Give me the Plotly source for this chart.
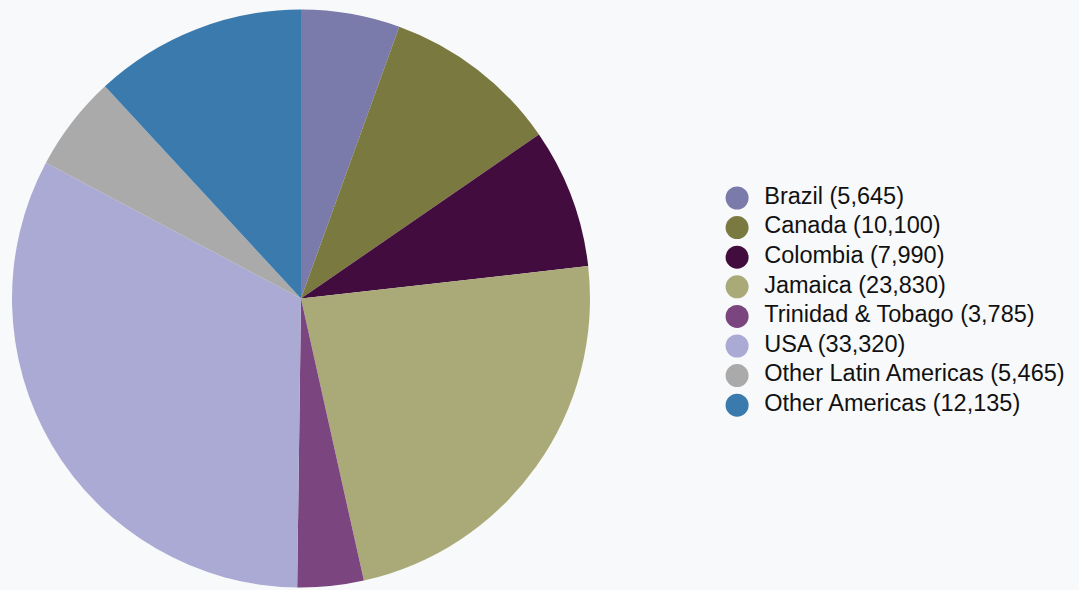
import plotly.graph_objects as go

countries = ["Brazil", "Canada", "Colombia", "Jamaica", "Trinidad & Tobago",
             "USA", "Other Latin Americas", "Other Americas"]
values = [5645, 10100, 7990, 23830, 3785, 33320, 5465, 12135]
colors = ["#7a7aab", "#7a7a40", "#420c3e", "#aaaa78", "#7b4580",
          "#aaaad4", "#aaaaaa", "#3a7aad"]

labels = [f"{c} ({v:,})" for c, v in zip(countries, values)]
idx = list(range(len(countries)))

fig = go.Figure()
fig.add_trace(go.Pie(
    labels=labels, values=values, sort=False, direction="clockwise", rotation=0,
    marker=dict(colors=colors, line=dict(width=0)),
    textinfo="none", hoverinfo="label+percent", showlegend=False,
    domain=dict(x=[12/1079, 590/1079], y=[0.004, 0.984]),
))

# legend drawn as a scatter on a hidden axis
fig.add_trace(go.Scatter(
    x=[0.068]*len(idx), y=idx, mode="markers",
    marker=dict(size=23, color=colors, line=dict(width=0)),
    showlegend=False, hoverinfo="skip", xaxis="x", yaxis="y",
))
fig.add_trace(go.Scatter(
    x=[0.142]*len(idx), y=idx, mode="text", text=labels,
    textposition="middle right",
    textfont=dict(size=23.5, color="#111111", family="Liberation Sans, Arial, sans-serif"),
    showlegend=False, hoverinfo="skip", xaxis="x", yaxis="y",
))

spacing = 29.6
top = -198/spacing
bottom = top + 590/spacing

fig.update_layout(
    width=1079, height=590,
    margin=dict(l=0, r=0, t=0, b=0),
    paper_bgcolor="#f8f9fb", plot_bgcolor="rgba(0,0,0,0)",
    xaxis=dict(domain=[0.66, 1.0], range=[0, 1], visible=False, fixedrange=True),
    yaxis=dict(domain=[0, 1], range=[bottom, top], visible=False, fixedrange=True),
    font=dict(family="Liberation Sans, Arial, sans-serif"),
)

fig.write_html(
    "out.html",
    config={"displayModeBar": False},
    post_script="document.body.style.margin='0';document.body.style.padding='0';"
                "document.body.style.background='#f8f9fb';",
)
